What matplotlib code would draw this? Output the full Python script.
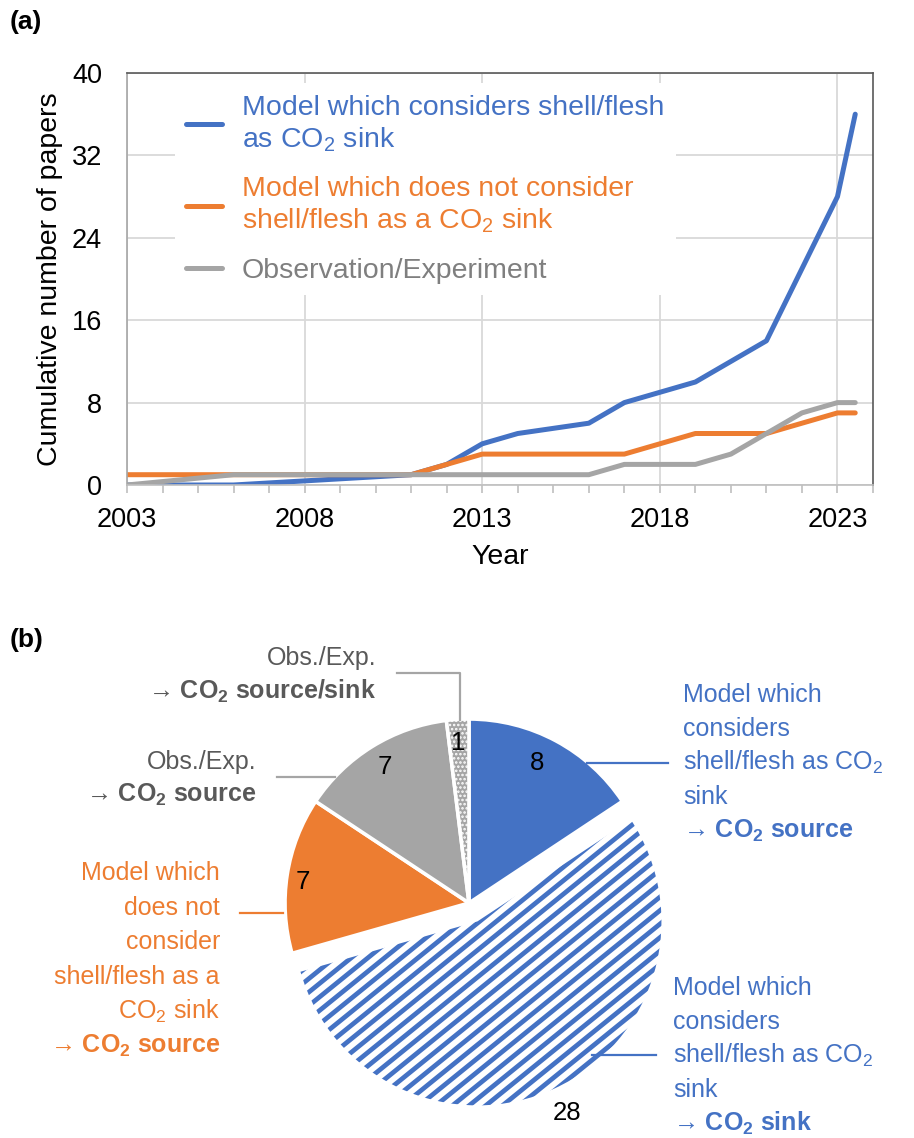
import numpy as np
import matplotlib
matplotlib.use('Agg')
import matplotlib.pyplot as plt
from matplotlib.collections import LineCollection
from matplotlib.lines import Line2D
from matplotlib.ticker import MultipleLocator

plt.rcParams['font.family'] = ['Liberation Sans', 'DejaVu Sans']
plt.rcParams['mathtext.fontset'] = 'custom'
plt.rcParams['mathtext.rm'] = 'Liberation Sans'
plt.rcParams['mathtext.it'] = 'Liberation Sans:italic'
plt.rcParams['mathtext.bf'] = 'Liberation Sans:bold'
plt.rcParams['mathtext.default'] = 'rm'
plt.rcParams['hatch.linewidth'] = 1.2

BLUE = '#4472C4'
ORANGE = '#ED7D31'
GRAY = '#A5A5A5'
TXTGRAY = '#595959'

# (a) cumulative number of papers
years_sink = [2003, 2006, 2011, 2012, 2013, 2014, 2016, 2017, 2018, 2019, 2020, 2021, 2022, 2023, 2023.5]
papers_sink = [0, 0, 1, 2, 4, 5, 6, 8, 9, 10, 12, 14, 21, 28, 36]
years_nosink = [2003, 2011, 2012, 2013, 2017, 2018, 2019, 2021, 2022, 2023, 2023.5]
papers_nosink = [1, 1, 2, 3, 3, 4, 5, 5, 6, 7, 7]
years_obs = [2003, 2006, 2016, 2017, 2019, 2020, 2021, 2022, 2023, 2023.5]
papers_obs = [0, 1, 1, 2, 2, 3, 5, 7, 8, 8]
series_names = ['Model which considers shell/flesh\nas CO$_2$ sink',
                'Model which does not consider\nshell/flesh as a CO$_2$ sink',
                'Observation/Experiment']

# (b) pie
pie_values = [8, 28, 7, 7, 1]
pie_colors = [BLUE, 'white', ORANGE, GRAY, GRAY]

W, H = 914, 1138
fig = plt.figure(figsize=(W / 100, H / 100), dpi=100)


def fx(px):
    return px / W


def fy(py):
    return 1 - py / H


# ---------------- (a) ----------------
ax = fig.add_axes([fx(127), fy(485), fx(873) - fx(127), fy(73) - fy(485)])
ax.plot(years_sink, papers_sink, color=BLUE, lw=3.6, solid_capstyle='round', solid_joinstyle='round', label=series_names[0])
ax.plot(years_nosink, papers_nosink, color=ORANGE, lw=3.6, solid_capstyle='round', solid_joinstyle='round', label=series_names[1])
ax.plot(years_obs, papers_obs, color=GRAY, lw=3.6, solid_capstyle='round', solid_joinstyle='round', label=series_names[2])

ax.set_xlim(2003, 2024)
ax.set_ylim(0, 40)
ax.set_xticks([2003, 2008, 2013, 2018, 2023])
ax.xaxis.set_minor_locator(MultipleLocator(1))
ax.set_yticks(np.arange(0, 41, 8))
ax.grid(True, color='#D9D9D9', lw=1.3)
ax.set_axisbelow(True)
ax.tick_params(axis='x', which='both', direction='out', length=6, width=1.2, color='#BFBFBF',
               labelsize=19.5, pad=10)
ax.tick_params(axis='y', length=0, labelsize=19.5, pad=18)
ax.spines['bottom'].set_color('#BFBFBF')
ax.spines['left'].set_color('#A6A6A6')
for s in ['top', 'right']:
    ax.spines[s].set_color('#595959')
for s in ax.spines.values():
    s.set_linewidth(1.2)
ax.set_xlabel('Year', fontsize=20.5, labelpad=8)
ax.set_ylabel('Cumulative number of papers', fontsize=20.5, labelpad=6)

leg = ax.legend(loc='upper left', bbox_to_anchor=(0.0638, 0.975), frameon=True, fancybox=False,
                edgecolor='none', facecolor='white', framealpha=1, borderpad=0.4, borderaxespad=0,
                handlelength=1.26, handletextpad=0.7, labelspacing=0.8, fontsize=20.5)
for t, c in zip(leg.get_texts(), [BLUE, ORANGE, '#7F7F7F']):
    t.set_color(c)

fig.text(fx(10), fy(22), '(a)', fontsize=19, fontweight='bold', va='center')
fig.text(fx(10), fy(640), '(b)', fontsize=19, fontweight='bold', va='center')

# ---------------- (b) ----------------
R = 184
CX, CY = 469, 903
ax2 = fig.add_axes([fx(CX - 230), fy(CY + 230), 460 / W, 460 / H])
wedges, _ = ax2.pie(pie_values, colors=pie_colors, startangle=90, counterclock=False,
                    explode=[0, 0.11, 0, 0, 0], radius=1,
                    wedgeprops=dict(edgecolor='white', linewidth=2.6))
ax2.set_xlim(-1.25, 1.25)
ax2.set_ylim(-1.25, 1.25)
ax2.set_aspect('equal')
ax2.axis('off')
wedges[4].set_hatch('....')

# diagonal stripes for the exploded slice
ang = np.deg2rad(39)
d = np.array([np.cos(ang), np.sin(ang)])
nrm = np.array([-np.sin(ang), np.cos(ang)])
gap = 10.5 / R
segs = [[nrm * k * gap - 2 * d, nrm * k * gap + 2 * d] for k in range(-35, 36)]
lc = LineCollection(segs, colors=BLUE, linewidths=3.4, transform=ax2.transData)
ax2.add_collection(lc)
lc.set_clip_path(wedges[1])


def to_data(px, py):
    return (px - CX) / R, (CY - py) / R


num_pos = [(537, 763), (567, 1113), (303, 882), (385, 767), (458, 743)]
for v, (px, py) in zip(pie_values, num_pos):
    x, y = to_data(px, py)
    ax2.text(x, y, str(v), fontsize=18.5, ha='center', va='center', clip_on=False)


def label_block(x, y_first, lines, color, ha, pitch=34):
    for i, (s, bold) in enumerate(lines):
        fig.text(fx(x), fy(y_first + i * pitch + 7), s, color=color, ha=ha, va='baseline',
                 fontsize=18, fontweight='bold' if bold else 'normal')


def leader(xs, ys, color):
    fig.add_artist(Line2D([fx(v) for v in xs], [fy(v) for v in ys], color=color, lw=1.6,
                          transform=fig.transFigure))


label_block(683, 695, [('Model which', False), ('considers', False), ('shell/flesh as CO$_2$', False),
                       ('sink', False), ('→ CO$_\\mathbf{2}$ source', True)], BLUE, 'left')
leader([587, 668], [763, 763], BLUE)

label_block(673, 988, [('Model which', False), ('considers', False), ('shell/flesh as CO$_2$', False),
                       ('sink', False), ('→ CO$_\\mathbf{2}$ sink', True)], BLUE, 'left')
leader([592, 656], [1055, 1055], BLUE)

label_block(220, 873, [('Model which', False), ('does not', False), ('consider', False),
                       ('shell/flesh as a', False), ('CO$_2$ sink', False),
                       ('→ CO$_\\mathbf{2}$ source', True)], ORANGE, 'right', pitch=34.6)
leader([240, 283], [913, 913], ORANGE)

label_block(256, 762, [('Obs./Exp.', False), ('→ CO$_\\mathbf{2}$ source', True)], TXTGRAY, 'right', pitch=33)
leader([277, 335], [777, 777], GRAY)

label_block(376, 658, [('Obs./Exp.', False), ('→ CO$_\\mathbf{2}$ source/sink', True)], TXTGRAY, 'right')
leader([397, 460, 460], [673, 673, 720], GRAY)

fig.savefig('out.png', dpi=100)
